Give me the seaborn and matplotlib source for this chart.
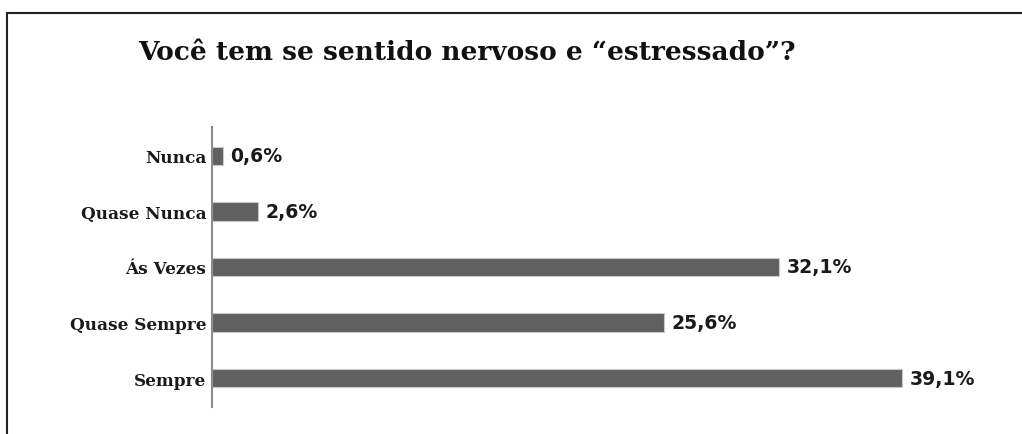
import matplotlib
matplotlib.use("Agg")
import matplotlib.pyplot as plt
import seaborn as sns
import pandas as pd
from matplotlib.lines import Line2D

categories = ["Nunca", "Quase Nunca", "Ás Vezes", "Quase Sempre", "Sempre"]
values = [0.6, 2.6, 32.1, 25.6, 39.1]
value_labels = ["0,6%", "2,6%", "32,1%", "25,6%", "39,1%"]
title = "Você tem se sentido nervoso e “estressado”?"

df = pd.DataFrame({"cat": categories, "val": values})

sns.set_theme(style="white")
W, H = 1022, 435
fig = plt.figure(figsize=(W / 100, H / 100), dpi=100)
# axes: x0 at px 212, 17.65 px/unit, xlim 0..45
x0, xr = 212, 212 + 45 * 17.65
ytop, ybot = 128, 408
ax = fig.add_axes([x0 / W, 1 - ybot / H, (xr - x0) / W, (ybot - ytop) / H])

sns.barplot(data=df, x="val", y="cat", order=categories, color="#606060",
            saturation=1, width=0.33, edgecolor="#c8c8c8", linewidth=0.8, ax=ax)
ax.set_xlim(0, 45)
ax.set_ylim(4.52, -0.52)
ax.set_xlabel("")
ax.set_ylabel("")
ax.set_xticks([])
for s in ["top", "right", "bottom"]:
    ax.spines[s].set_visible(False)
ax.spines["left"].set_color("#8c8c8c")
ax.spines["left"].set_linewidth(1.5)
ax.tick_params(axis="y", length=0, pad=4)
for lab in ax.get_yticklabels():
    lab.set_fontfamily("DejaVu Serif")
    lab.set_fontsize(12.2)
    lab.set_fontweight("bold")
    lab.set_color("#1a1a1a")

for i, (v, t) in enumerate(zip(values, value_labels)):
    ax.text(v + 0.45, i, t, va="center", ha="left", fontsize=13.6,
            fontweight="bold", family="DejaVu Sans", color="#1a1a1a")

fig.text(138 / W, 1 - 53 / H, title, ha="left", va="center", fontsize=19,
         fontweight="bold", family="DejaVu Serif", color="#111111")

# frame lines (top and left only)
fig.add_artist(Line2D([7 / W, 1], [1 - 14 / H, 1 - 14 / H], color="#222222", lw=1.5,
                      transform=fig.transFigure))
fig.add_artist(Line2D([7 / W, 7 / W], [0, 1 - 14 / H], color="#222222", lw=1.5,
                      transform=fig.transFigure))

fig.savefig("out.png", dpi=100)
